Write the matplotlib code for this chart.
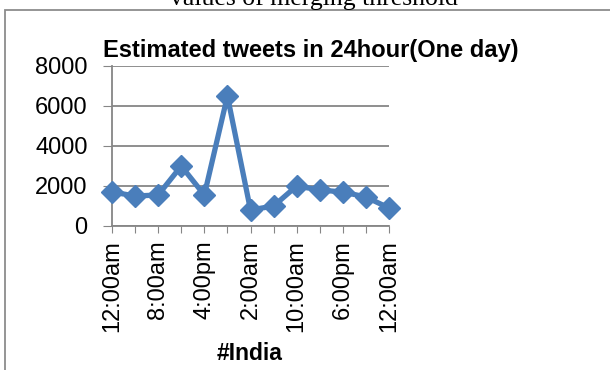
import matplotlib
matplotlib.use('Agg')
import matplotlib.pyplot as plt
from matplotlib.patches import Rectangle

# data
jam = ['12:00am', '', '8:00am', '', '4:00pm', '', '2:00am', '',
       '10:00am', '', '6:00pm', '', '12:00am']
tweets = [1700, 1500, 1550, 3000, 1550, 6500, 800, 1000, 2000, 1800, 1700, 1450, 900]
y_ticks = [0, 2000, 4000, 6000, 8000]

plt.rcParams['font.family'] = ['Liberation Sans', 'DejaVu Sans']

W, H = 610, 370
fig = plt.figure(figsize=(W / 100, H / 100), dpi=100)

# frame of the chart box (top and left edges visible)
fig.patches.append(Rectangle((5 / W, -0.1), 1.2, (H - 10) / H + 0.1,
                             transform=fig.transFigure, fill=False,
                             edgecolor='#8c8c8c', linewidth=1.3))

# caption of the page above, cut off like in the original
fig.text(314 / W, 1 - 5 / H, 'values of merging threshold', ha='center',
         va='baseline', fontsize=18.5, family='Liberation Serif')

ax = fig.add_axes([112 / W, (H - 226) / H, 277 / W, 160 / H])
x = list(range(len(tweets)))
ax.plot(x, tweets, color='#4a7ebb', linewidth=3.8, marker='D', markersize=11.5,
        clip_on=False, zorder=3)

ax.set_xlim(0, len(tweets) - 1)
ax.set_ylim(0, 8000)
ax.set_yticks(y_ticks)
ax.set_xticks(x)
ax.set_xticklabels(jam, rotation=90, fontsize=17)
ax.tick_params(axis='y', labelsize=17, length=6.5, color='#868686', pad=11)
ax.tick_params(axis='x', length=5, color='#868686', pad=5)
ax.grid(axis='y', color='#868686', linewidth=1.3)
ax.set_axisbelow(True)
for s in ['top', 'right']:
    ax.spines[s].set_visible(False)
for s in ['left', 'bottom']:
    ax.spines[s].set_color('#868686')
    ax.spines[s].set_linewidth(1.3)

fig.text(311 / W, 1 - 50 / H, 'Estimated tweets in 24hour(One day)', ha='center',
         va='center', fontsize=17, fontweight='bold')
fig.text(250 / W, 1 - 353 / H, '#India', ha='center', va='center',
         fontsize=16.5, fontweight='bold')

fig.savefig('out.png', dpi=100)
